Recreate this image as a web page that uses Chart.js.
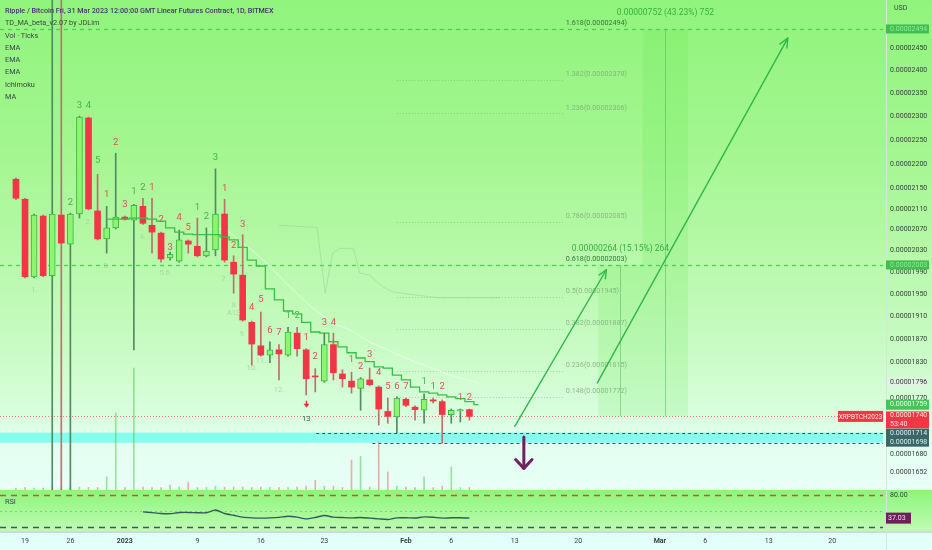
<!DOCTYPE html>
<html>
<head>
<meta charset="utf-8">
<title>XRPBTCH2023</title>
<script src="https://cdn.jsdelivr.net/npm/chart.js@4.4.1/dist/chart.umd.min.js"></script>
<style>
  html, body { margin: 0; padding: 0; background: #e4fff8; }
  #wrap { position: relative; width: 932px; height: 550px; overflow: hidden; font-family: Roboto, "Liberation Sans", sans-serif; }
  canvas { position: absolute; left: 0; }
  #mainChart { top: 0; }
  #rsiChart { top: 490px; }
  #legend { position: absolute; left: 5px; top: 5px; font-size: 7.3px; line-height: 12.3px; color: #3a4a42; pointer-events: none; }
  #legend .title { color: #4a3370; font-weight: 500; font-size: 7.2px; }
  #rsiTitle { position: absolute; left: 5px; top: 497px; font-size: 7.3px; color: #3a4a42; }
</style>
</head>
<body>
<div id="wrap">
  <canvas id="mainChart" width="932" height="490"></canvas>
  <canvas id="rsiChart" width="932" height="60"></canvas>
  <div id="legend">
    <div class="title">Ripple / Bitcoin Fri, 31 Mar 2023 12:00:00 GMT Linear Futures Contract, 1D, BITMEX</div>
    <div>TD_MA_beta_v2.07 by JDLim</div>
    <div>Vol · Ticks</div>
    <div>EMA</div>
    <div>EMA</div>
    <div>EMA</div>
    <div>Ichimoku</div>
    <div>MA</div>
  </div>
  <div id="rsiTitle">RSI</div>
</div>
<script>
// prices are in units of 1e-8 BTC, days counted from 19 Dec 2022
const UNIT = 1e-8;

const candleDays = [1, 2, 3, 4, 5, 6, 7, 8, 9, 10, 11, 12, 13, 14, 15, 16, 17, 18, 19, 20,
    21, 22, 23, 24, 25, 26, 27, 28, 29, 30, 31, 32, 33, 34, 35, 36, 37, 38, 39, 40,
    41, 42, 43, 44, 45, 46, 47, 48, 49, 50, 51];
const opens  = [2169, 2129, 1981, 2096, 1983, 2098, 2042, 2100, 2296, 2106, 2052, 2073, 2094, 2088, 2115, 2078, 2063, 2016, 2010, 2048,
    2038, 2020, 2031, 2100, 2008, 1984, 1899, 1858, 1842, 1851, 1842, 1880, 1851, 1806, 1798, 1860, 1810, 1798, 1786, 1800,
    1788, 1748, 1739, 1768, 1755, 1750, 1767, 1764, 1743, 1749, 1751];
const highs  = [2172, 2131, 2100, 2098, 2800, 2800, 2102, 2300, 2298, 2179, 2115, 2222, 2096, 2119, 2131, 2131, 2065, 2027, 2069, 2050,
    2092, 2073, 2190, 2129, 2020, 2060, 1901, 1917, 1865, 1860, 1890, 1890, 1853, 1819, 1880, 1880, 1817, 1813, 1804, 1820,
    1790, 1770, 1772, 1770, 1757, 1777, 1770, 1767, 1752, 1752, 1752];
const lows   = [2128, 1979, 1979, 1981, 1500, 1500, 1500, 2092, 2108, 2050, 2025, 2071, 2088, 1851, 2080, 2025, 2008, 2012, 2008, 2025,
    2018, 2018, 2020, 2008, 1951, 1901, 1825, 1840, 1829, 1800, 1840, 1840, 1775, 1780, 1796, 1800, 1788, 1778, 1750, 1790,
    1726, 1729, 1714, 1756, 1734, 1729, 1762, 1697, 1729, 1731, 1734];
const closes = [2131, 1981, 2098, 1983, 2100, 2044, 2100, 2298, 2110, 2052, 2073, 2094, 2090, 2117, 2082, 2065, 2014, 2023, 2050, 2042,
    2020, 2029, 2100, 2012, 1986, 1903, 1861, 1842, 1851, 1844, 1882, 1853, 1802, 1805, 1860, 1812, 1802, 1788, 1802, 1792,
    1752, 1740, 1770, 1758, 1751, 1768, 1765, 1743, 1750, 1751, 1740];
// volume in ticks, relative units (100 = full pane height)
const volumes = [0.4, 0.5, 0.4, 0.4, 0.6, 0.5, 0.5, 0.6, 0.5, 0.5, 2.7, 15.7, 0.5, 24.9, 0.6, 0.5, 0.5, 1.0, 0.6, 1.6,
    0.5, 0.5, 0.8, 0.6, 0.6, 0.6, 0.5, 0.6, 0.5, 0.5, 0.5, 0.6, 0.8, 2.0, 0.8, 0.8, 0.5, 6.1, 6.9, 0.6,
    9.8, 3.7, 0.8, 0.6, 0.5, 2.7, 0.5, 0.8, 4.7, 0.5, 0.5];

// TD_MA stepped line
const tdMaDays = [11, 12, 13, 14, 15, 16, 17, 18, 19, 20, 21, 22, 23, 24, 25, 26, 27, 28, 29, 30, 31,
    32, 33, 34, 35, 36, 37, 38, 39, 40, 41, 42, 43, 44, 45, 46, 47, 48, 49, 50, 51, 52];
const tdMaValues = [2090, 2090, 2090, 2092, 2092, 2090, 2086, 2073, 2065, 2061, 2060, 2060, 2060, 2056, 2050, 2036, 2012, 2001, 1959, 1939, 1919,
    1914, 1899, 1882, 1880, 1865, 1856, 1846, 1837, 1831, 1822, 1820, 1808, 1800, 1788, 1780, 1778, 1775, 1772, 1769, 1764, 1759];

// faint EMA and Ichimoku lines
const emaDays = [22, 24, 26, 28, 30, 32, 34, 36, 38, 40, 42, 44, 46, 48, 50, 52];
const emaValues = [2071, 2069, 2044, 2016, 1983, 1950, 1921, 1898, 1884, 1865, 1851, 1837, 1825, 1813, 1803, 1795];
const ichiDays = [30, 34.2, 35.1, 35.9, 36.7, 38.2, 38.9, 40, 41.5, 42.6, 47.4, 54.4];
const ichiValues = [2078, 2074, 1951, 2025, 2034, 2034, 1988, 1984, 1962, 1953, 1943, 1943];

// TD sequential counts: g = green, r = red, f = faint, d = dark
const tdDays   = [8, 9, 7, 10, 11, 12, 13, 14, 15, 16, 17, 18, 19, 20, 21, 22, 23, 24, 25, 26, 27, 28, 29, 30,
    31, 32, 33, 34, 35, 36, 38, 39, 40, 41, 42, 43, 44, 46, 47, 48, 50, 51,
    3, 9, 11, 15, 17.5, 24, 25, 25, 26, 27, 28, 30, 33];
const tdPrices = [2323, 2323, 2123, 2206, 2139, 2245, 2119, 2145, 2153, 2153, 2090, 2035, 2092, 2073, 2113, 2094, 2212, 2151, 2040, 2080, 1925, 1939, 1885, 1880,
    1910, 1910, 1873, 1839, 1899, 1899, 1834, 1822, 1842, 1812, 1788, 1788, 1788, 1797, 1788, 1788, 1770, 1770,
    1957, 2084, 2001, 2056, 1988, 1977, 1930, 1915, 1878, 1820, 1831, 1783, 1736];
const tdTexts  = ['3', '4', '2', '5', '1', '2', '3', '1', '2', '1', '2', '3', '4', '5', '1', '2', '3', '1', '2', '3', '4', '5', '6', '7',
    '1', '2', '1', '2', '3', '4', '1', '2', '3', '4', '5', '6', '7', '1', '1', '2', '1', '2',
    '1.', '2.', '3.', '4.', '5.6.', '7.', '8', 'A13', '9.', '10.', '11.', '12.', '13'];
const tdKinds  = ['g', 'g', 'g', 'g', 'r', 'r', 'r', 'g', 'g', 'r', 'r', 'r', 'r', 'r', 'g', 'g', 'g', 'r', 'r', 'r', 'r', 'r', 'r', 'r',
    'g', 'g', 'r', 'r', 'r', 'r', 'r', 'r', 'r', 'r', 'r', 'r', 'r', 'g', 'r', 'r', 'r', 'r',
    'f', 'f', 'f', 'f', 'f', 'f', 'f', 'f', 'f', 'f', 'f', 'f', 'd'];
const markerDay = 33, markerPrice = 1759;

// fibonacci extension
const fibRatios = ['1.618', '1.382', '1.236', '0.786', '0.618', '0.5', '0.382', '0.236', '0.148'];
const fibPrices = [2494, 2378, 2306, 2085, 2003, 1945, 1887, 1815, 1772];
const fibFromDay = 43, fibToDay = 61.3;

// price range measurements
const rangeFromDays = [65.2, 70.1];
const rangeToDays = [70.1, 75.1];
const rangeBase = 1740;
const rangeTops = [2003, 2494];
const rangeTexts = ['0.00000264 (15.15%) 264', '0.00000752 (43.23%) 752'];

// horizontal lines and support band
const hLinePrices = [2494, 2003, 1714, 1698, 1740];
const hLineFromDays = [null, null, 34.1, 40.3, null];
const bandTop = 1714, bandBottom = 1698;

// drawn arrows
const arrowFromDays = [56.0, 65.1, 57.0];
const arrowFromPrices = [1724, 1795, 1707];
const arrowToDays = [66.1, 86.1, 57.0];
const arrowToPrices = [1994, 2473, 1658];

// axes
const xMinDay = -0.76, xMaxDay = 96.6;
const yMinPrice = 1625, yMaxPrice = 2562;
const yTickValues = [2450, 2400, 2350, 2300, 2250, 2200, 2150, 2110, 2070, 2030, 1990, 1950, 1910, 1870, 1830, 1796, 1770, 1680, 1652];
const xTickDays = [2, 7, 13, 21, 28, 35, 44, 49, 56, 63, 72, 77, 84, 91];
const xTickLabels = ['19', '26', '2023', '9', '16', '23', 'Feb', '6', '13', '20', 'Mar', '6', '13', '20'];

// RSI
const rsiDays = [15, 16, 17, 18, 19, 20, 21, 22, 23, 24, 25, 26, 27, 28, 29, 30, 31, 32, 33, 34, 35,
    36, 37, 38, 39, 40, 41, 42, 43, 44, 45, 46, 47, 48, 49, 50, 51];
const rsiValues = [48.7, 47.2, 45.6, 45.3, 47.4, 47.6, 47.0, 46.9, 52.0, 45.6, 42.3, 38.8, 37.5, 37.0, 37.4, 38.4, 40.6, 38.8, 35.6, 38.2, 42.0,
    38.8, 38.1, 37.5, 38.2, 37.0, 35.6, 34.4, 37.5, 37.6, 37.2, 39.3, 38.6, 37.0, 37.6, 37.8, 37.03];
const rsiLevels = [80, 50, 20];

const FONT = "Roboto, 'Liberation Sans', sans-serif";
Chart.defaults.font.family = FONT;

function fmt(v) 
{
    return (v * UNIT).toFixed(8);
}

function drawArrow(ctx, x1, y1, x2, y2, color, width, head, spread) 
{
    ctx.save();
    ctx.strokeStyle = color;
    ctx.lineWidth = width;
    ctx.lineCap = "round";
    ctx.lineJoin = "round";
    ctx.beginPath();
    ctx.moveTo(x1, y1);
    ctx.lineTo(x2, y2);
    ctx.stroke();
    const a = Math.atan2(y2 - y1, x2 - x1);
    ctx.beginPath();
    ctx.moveTo(x2 - head * Math.cos(a - spread), y2 - head * Math.sin(a - spread));
    ctx.lineTo(x2, y2);
    ctx.lineTo(x2 - head * Math.cos(a + spread), y2 - head * Math.sin(a + spread));
    ctx.stroke();
    ctx.restore();
}

function axisBox(ctx, x, yc, h, bg, lines, color) 
{
    ctx.fillStyle = bg;
    ctx.fillRect(x, yc - h / 2, 43, h);
    ctx.fillStyle = color;
    ctx.font = "7px " + FONT;
    ctx.textAlign = "left";
    ctx.textBaseline = "middle";
    const step = h / lines.length;
    lines.forEach(function(t, i) 
    {
        ctx.fillText(t, x + 4, yc - h / 2 + step * (i + 0.5));
    });
}

const isUp = closes.map(function(c, i) { return c >= opens[i]; });

const bgPlugin = 
{
    id: "bg",
    beforeDraw(chart) 
    {
        const { ctx, width, height, chartArea, scales } = chart;
        const g = ctx.createLinearGradient(0, 0, 0, height);
        g.addColorStop(0, "#90f47c");
        g.addColorStop(0.3, "#a3f68f");
        g.addColorStop(0.5, "#b5f8a7");
        g.addColorStop(0.7, "#c8fbc3");
        g.addColorStop(0.85, "#dafedf");
        g.addColorStop(0.9, "#e3fff0");
        g.addColorStop(1, "#e8fff7");
        ctx.save();
        ctx.fillStyle = g;
        ctx.fillRect(0, 0, width, height);
        // highlighted tick on the price scale
        const y = scales.y.getPixelForValue(1796);
        ctx.fillStyle = "rgba(225,242,228,0.95)";
        ctx.fillRect(chartArea.right + 3, y - 5, 43, 10);
        ctx.fillStyle = "rgba(210,232,214,1)";
        ctx.fillRect(chartArea.right + 3, 0, 1, height);
        ctx.restore();
    }
};

const underlayPlugin = 
{
    id: "underlay",
    beforeDatasetsDraw(chart) 
    {
        const { ctx, chartArea: a, scales: { x, y } } = chart;
        ctx.save();
        ctx.beginPath();
        ctx.rect(a.left, a.top, a.right - a.left, a.bottom - a.top);
        ctx.clip();

        // support band
        const b1 = y.getPixelForValue(bandTop), b2 = y.getPixelForValue(bandBottom);
        ctx.fillStyle = "#86fcef";
        ctx.fillRect(a.left, b1, a.right - a.left, b2 - b1);

        // price range boxes
        rangeTops.forEach(function(top, i) 
        {
            const x1 = x.getPixelForValue(rangeFromDays[i]);
            const x2 = x.getPixelForValue(rangeToDays[i]);
            const yt = y.getPixelForValue(top);
            const yb = y.getPixelForValue(rangeBase);
            ctx.fillStyle = "rgba(80,230,60,0.14)";
            ctx.fillRect(x1, yt, x2 - x1, yb - yt);
            const xc = Math.round((x1 + x2) / 2) + 0.5;
            ctx.strokeStyle = "rgba(60,175,70,0.45)";
            ctx.lineWidth = 1;
            ctx.setLineDash([]);
            ctx.beginPath();
            ctx.moveTo(xc, yt);
            ctx.lineTo(xc, yb);
            ctx.stroke();
        });

        // fibonacci level lines
        const f1 = x.getPixelForValue(fibFromDay), f2 = x.getPixelForValue(fibToDay);
        ctx.strokeStyle = "rgba(110,160,110,0.45)";
        ctx.setLineDash([1, 2]);
        fibPrices.forEach(function(p) 
        {
            const yy = Math.round(y.getPixelForValue(p)) + 0.5;
            ctx.beginPath();
            ctx.moveTo(f1, yy);
            ctx.lineTo(f2, yy);
            ctx.stroke();
        });

        // horizontal lines
        const styles = [
            { c: "#4fcf52", w: 1.3, d: [4, 4] },
            { c: "#4fcf52", w: 1.3, d: [4, 4] },
            { c: "#3c5552", w: 1, d: [3, 3] },
            { c: "#3c5552", w: 1, d: [3, 3] },
            { c: "rgba(235,95,95,0.8)", w: 1, d: [1, 2] }
        ];
        hLinePrices.forEach(function(p, i) 
        {
            const s = styles[i];
            const yy = Math.round(y.getPixelForValue(p)) + 0.5;
            const xs = hLineFromDays[i] === null ? a.left : x.getPixelForValue(hLineFromDays[i]);
            ctx.strokeStyle = s.c;
            ctx.lineWidth = s.w;
            ctx.setLineDash(s.d);
            ctx.beginPath();
            ctx.moveTo(xs, yy);
            ctx.lineTo(a.right, yy);
            ctx.stroke();
        });
        ctx.restore();
    }
};

const overlayPlugin = 
{
    id: "overlay",
    afterDatasetsDraw(chart) 
    {
        const { ctx, chartArea: a, scales: { x, y } } = chart;
        ctx.save();
        ctx.textAlign = "center";
        ctx.textBaseline = "middle";

        // TD counts
        const colors = { g: "rgb(72,178,80)", r: "rgb(218,82,92)", f: "rgba(165,215,165,0.95)", d: "rgb(40,105,60)" };
        tdTexts.forEach(function(t, i) 
        {
            const k = tdKinds[i];
            ctx.font = (k === "f" || k === "d" ? "7.5px " : "9.5px ") + FONT;
            ctx.fillStyle = colors[k];
            ctx.fillText(t, x.getPixelForValue(tdDays[i]), y.getPixelForValue(tdPrices[i]));
        });

        // small red arrow above the 13 count
        const mx = Math.round(x.getPixelForValue(markerDay)) + 0.5;
        const my = y.getPixelForValue(markerPrice);
        ctx.strokeStyle = "rgb(230,50,60)";
        ctx.fillStyle = "rgb(230,50,60)";
        ctx.lineWidth = 1.5;
        ctx.beginPath();
        ctx.moveTo(mx, my - 4);
        ctx.lineTo(mx, my);
        ctx.stroke();
        ctx.beginPath();
        ctx.moveTo(mx - 3, my - 1);
        ctx.lineTo(mx + 3, my - 1);
        ctx.lineTo(mx, my + 3);
        ctx.closePath();
        ctx.fill();

        // fib labels
        ctx.textAlign = "left";
        ctx.textBaseline = "bottom";
        ctx.font = "7.2px " + FONT;
        fibRatios.forEach(function(r, i) 
        {
            const strong = r === "1.618" || r === "0.618";
            ctx.fillStyle = strong ? "rgb(50,120,55)" : "rgba(120,165,120,0.75)";
            ctx.fillText(r + "(" + fmt(fibPrices[i]) + ")", x.getPixelForValue(fibToDay) + 3, y.getPixelForValue(fibPrices[i]) - 2);
        });

        // range texts
        ctx.textAlign = "center";
        ctx.textBaseline = "middle";
        ctx.font = "8.5px " + FONT;
        ctx.fillStyle = "rgb(55,178,62)";
        rangeTexts.forEach(function(t, i) 
        {
            const xc = (x.getPixelForValue(rangeFromDays[i]) + x.getPixelForValue(rangeToDays[i])) / 2;
            ctx.fillText(t, xc, y.getPixelForValue(rangeTops[i]) - 16);
        });

        // arrows
        const arrowStyle = [
            { c: "#2fb84a", w: 1.4, h: 9, s: 0.42 },
            { c: "#2fb84a", w: 1.4, h: 10, s: 0.42 },
            { c: "#6e2360", w: 3, h: 12, s: 0.75 }
        ];
        arrowFromDays.forEach(function(d, i) 
        {
            const s = arrowStyle[i];
            drawArrow(ctx,
                x.getPixelForValue(d), y.getPixelForValue(arrowFromPrices[i]),
                x.getPixelForValue(arrowToDays[i]), y.getPixelForValue(arrowToPrices[i]),
                s.c, s.w, s.h, s.s);
        });

        // symbol label on the last price line
        const yl = y.getPixelForValue(closes[closes.length - 1]);
        ctx.fillStyle = "#f23645";
        ctx.fillRect(a.right - 45, yl - 5.5, 45, 11);
        ctx.fillStyle = "#ffe8ea";
        ctx.font = "6.5px " + FONT;
        ctx.fillText("XRPBTCH2023", a.right - 22.5, yl + 0.5);
        ctx.restore();
    },
    afterDraw(chart) 
    {
        const { ctx, chartArea: a, scales: { y } } = chart;
        const bx = a.right + 3;
        ctx.save();
        axisBox(ctx, bx, y.getPixelForValue(2494), 9, "rgb(66,190,80)", [fmt(2494)], "rgba(170,240,170,0.8)");
        axisBox(ctx, bx, y.getPixelForValue(2003), 9, "rgb(66,190,80)", [fmt(2003)], "rgba(170,240,170,0.8)");
        axisBox(ctx, bx, y.getPixelForValue(1759), 10, "rgb(70,196,86)", [fmt(1759)], "#e9ffe9");
        axisBox(ctx, bx, y.getPixelForValue(1740) + 3.5, 17, "#f23645", [fmt(1740), "53:40"], "#ffe3e5");
        axisBox(ctx, bx, (y.getPixelForValue(1714) + y.getPixelForValue(1698)) / 2, 18, "rgb(58,102,104)", [fmt(1714), fmt(1698)], "#d8f0ee");
        ctx.fillStyle = "#3a4a42";
        ctx.font = "7px " + FONT;
        ctx.textAlign = "left";
        ctx.textBaseline = "middle";
        ctx.fillText("USD", bx + 8, 8);
        ctx.restore();
    }
};

new Chart(document.getElementById("mainChart"), 
{
    type: "line",
    data: 
    {
        datasets: [
            {
                type: "line",
                label: "TD_MA",
                data: tdMaDays.map(function(d, i) { return { x: d, y: tdMaValues[i] }; }),
                borderColor: "rgb(58,190,70)",
                borderWidth: 1.3,
                stepped: "middle",
                pointRadius: 0,
                order: -1
            },
            {
                type: "bar",
                label: "bodies",
                data: candleDays.map(function(d, i) { return { x: d, y: [opens[i], closes[i]] }; }),
                backgroundColor: isUp.map(function(u) { return u ? "#8ef56e" : "#f23645"; }),
                borderColor: isUp.map(function(u) { return u ? "#3cb449" : "#f23645"; }),
                borderWidth: isUp.map(function(u) { return u ? 1 : 0; }),
                borderSkipped: false,
                barThickness: 6,
                minBarLength: 1,
                grouped: false,
                order: 0
            },
            {
                type: "bar",
                label: "wicks",
                data: candleDays.map(function(d, i) { return { x: d, y: [lows[i], highs[i]] }; }),
                backgroundColor: isUp.map(function(u) { return u ? "rgb(80,140,95)" : "rgb(190,110,110)"; }),
                barThickness: 1,
                grouped: false,
                order: 1
            },
            {
                type: "line",
                label: "EMA",
                data: emaDays.map(function(d, i) { return { x: d, y: emaValues[i] }; }),
                borderColor: "rgba(255,255,255,0.55)",
                borderWidth: 1,
                tension: 0.4,
                pointRadius: 0,
                order: 3
            },
            {
                type: "line",
                label: "Ichimoku",
                data: ichiDays.map(function(d, i) { return { x: d, y: ichiValues[i] }; }),
                borderColor: "rgba(150,210,150,0.55)",
                borderWidth: 1,
                pointRadius: 0,
                order: 3
            },
            {
                type: "bar",
                label: "Vol",
                yAxisID: "yVol",
                data: candleDays.map(function(d, i) { return { x: d, y: volumes[i] }; }),
                backgroundColor: isUp.map(function(u) { return u ? "rgba(90,200,90,0.55)" : "rgba(215,130,115,0.6)"; }),
                barThickness: 1,
                grouped: false,
                order: 5
            }
        ]
    },
    options: 
    {
        responsive: false,
        animation: false,
        events: [],
        layout: { padding: 0 },
        plugins: { legend: { display: false }, tooltip: { enabled: false } },
        scales: 
        {
            x: 
            {
                type: "linear",
                min: xMinDay,
                max: xMaxDay,
                offset: false,
                display: false
            },
            y: 
            {
                type: "logarithmic",
                position: "right",
                min: yMinPrice,
                max: yMaxPrice,
                grid: { display: false, drawTicks: false },
                border: { display: false },
                afterBuildTicks: function(scale) 
                {
                    scale.ticks = yTickValues.map(function(v) { return { value: v }; });
                },
                afterFit: function(scale) 
                {
                    // full-height pane: labels may overflow the top/bottom edge
                    scale.width = 49;
                    scale.paddingTop = 0;
                    scale.paddingBottom = 0;
                },
                ticks: 
                {
                    padding: 7,
                    color: "#34403a",
                    font: { size: 7 },
                    autoSkip: false,
                    callback: function(v) { return fmt(v); }
                }
            },
            yVol: 
            {
                type: "linear",
                min: 0,
                max: 100,
                display: false
            }
        }
    },
    plugins: [bgPlugin, underlayPlugin, overlayPlugin]
});

// RSI pane
const rsiBgPlugin = 
{
    id: "rsiBg",
    beforeDraw(chart) 
    {
        const { ctx, width, height, chartArea: a, scales: { y } } = chart;
        ctx.save();
        const g = ctx.createLinearGradient(0, 0, 0, a.bottom);
        g.addColorStop(0, "#8cf67a");
        g.addColorStop(1, "#bffbb3");
        ctx.fillStyle = g;
        ctx.fillRect(0, 0, width, a.bottom);
        ctx.fillStyle = "#e2fff9";
        ctx.fillRect(0, a.bottom, width, height - a.bottom);
        ctx.fillStyle = "rgb(205,218,218)";
        ctx.fillRect(0, a.bottom, width, 2);
        ctx.fillStyle = "rgba(210,232,214,1)";
        ctx.fillRect(a.right + 3, 0, 1, height);

        const styles = [
            { c: "rgb(240,60,72)", w: 1.5, d: [6, 5] },
            { c: "rgba(120,185,120,0.7)", w: 1, d: [2, 3] },
            { c: "rgb(58,92,86)", w: 1.5, d: [6, 5] }
        ];
        rsiLevels.forEach(function(v, i) 
        {
            const s = styles[i];
            const yy = Math.round(y.getPixelForValue(v)) + 0.5;
            ctx.strokeStyle = s.c;
            ctx.lineWidth = s.w;
            ctx.setLineDash(s.d);
            ctx.beginPath();
            ctx.moveTo(a.left, yy);
            ctx.lineTo(a.right, yy);
            ctx.stroke();
        });
        ctx.restore();
    },
    afterDraw(chart) 
    {
        const { ctx, chartArea: a, scales: { y } } = chart;
        ctx.save();
        ctx.font = "7px " + FONT;
        ctx.textAlign = "left";
        ctx.textBaseline = "middle";
        ctx.fillStyle = "#34403a";
        ctx.fillText("80.00", a.right + 7, y.getPixelForValue(80));
        const last = rsiValues[rsiValues.length - 1];
        const yl = y.getPixelForValue(last);
        ctx.fillStyle = "rgb(110,32,92)";
        ctx.fillRect(a.right + 3, yl - 5.5, 25, 11);
        ctx.fillStyle = "#f0d8ee";
        ctx.fillText(last.toFixed(2), a.right + 5, yl + 0.5);
        ctx.restore();
    }
};

new Chart(document.getElementById("rsiChart"), 
{
    type: "line",
    data: 
    {
        datasets: [
            {
                label: "RSI",
                data: rsiDays.map(function(d, i) { return { x: d, y: rsiValues[i] }; }),
                borderColor: "rgb(52,90,94)",
                borderWidth: 1.4,
                pointRadius: 0,
                tension: 0.2
            }
        ]
    },
    options: 
    {
        responsive: false,
        animation: false,
        events: [],
        layout: { padding: 0 },
        plugins: { legend: { display: false }, tooltip: { enabled: false } },
        scales: 
        {
            x: 
            {
                type: "linear",
                min: xMinDay,
                max: xMaxDay,
                offset: false,
                grid: { display: false, drawTicks: false },
                border: { display: false },
                afterBuildTicks: function(scale) 
                {
                    scale.ticks = xTickDays.map(function(v) { return { value: v }; });
                },
                afterFit: function(scale) { scale.height = 19; },
                ticks: 
                {
                    padding: 6,
                    maxRotation: 0,
                    autoSkip: false,
                    color: "#34403a",
                    font: function(c) 
                    {
                        const t = xTickLabels[c.index];
                        const strong = t === "2023" || t === "Feb" || t === "Mar";
                        return { size: 7, weight: strong ? "bold" : "normal" };
                    },
                    callback: function(v, i) { return xTickLabels[i]; }
                }
            },
            y: 
            {
                type: "linear",
                position: "right",
                min: 13.1,
                max: 89.3,
                grid: { display: false, drawTicks: false },
                border: { display: false },
                ticks: { display: false },
                afterFit: function(scale) { scale.width = 49; }
            }
        }
    },
    plugins: [rsiBgPlugin]
});
</script>
</body>
</html>
